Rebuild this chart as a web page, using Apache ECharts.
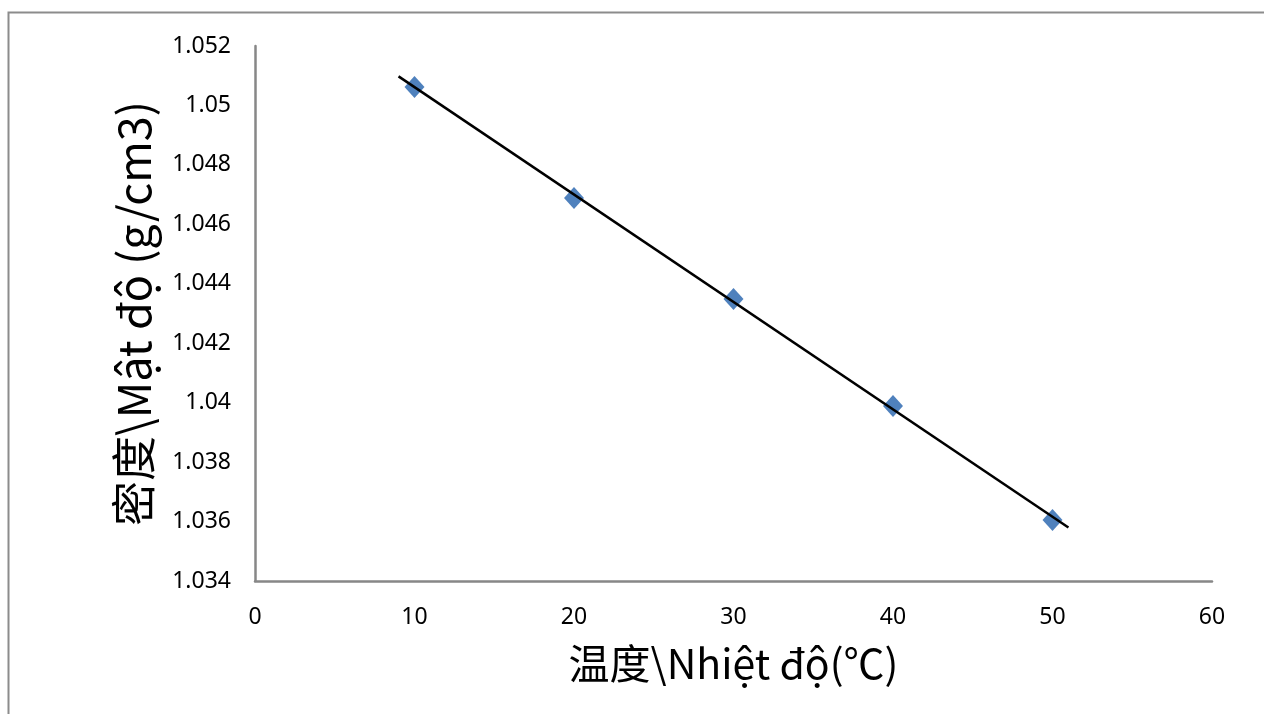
<!DOCTYPE html>
<html>
<head>
<meta charset="utf-8">
<script src="https://cdn.jsdelivr.net/npm/echarts@6/dist/echarts.min.js"></script>
<style>
html,body{margin:0;padding:0;background:#fff;}
#chart{width:1264px;height:714px;}
</style>
</head>
<body>
<div id="chart"></div>
<script>
// Data
const temperatures = [10, 20, 30, 40, 50];
const densities = [1.05062, 1.04689, 1.04349, 1.03989, 1.03605];
const trendRange = [9, 51];
const xTitle = '温度\\Nhiệt độ(℃)';
const yTitle = '密度\\Mật độ (g/cm3)';

// Linear least-squares trend line from the data
function linearFit(xs, ys) {
  const n = xs.length;
  const mx = xs.reduce((a, b) => a + b, 0) / n;
  const my = ys.reduce((a, b) => a + b, 0) / n;
  let sxy = 0, sxx = 0;
  for (let i = 0; i < n; i++) { sxy += (xs[i] - mx) * (ys[i] - my); sxx += (xs[i] - mx) ** 2; }
  const k = sxy / sxx;
  return x => my + k * (x - mx);
}
const fit = linearFit(temperatures, densities);
const trendData = trendRange.map(x => [x, fit(x)]);

const chart = echarts.init(document.getElementById('chart'));
const axisColor = '#878787';
const labelFont = '"Noto Sans", "Open Sans", sans-serif';
chart.setOption({
  backgroundColor: '#fff',
  animation: false,
  graphic: [{
    type: 'rect', left: 6, top: 10,
    shape: { width: 1400, height: 800 },
    style: { fill: 'none', stroke: '#8c8c8c', lineWidth: 2 },
    z: -1
  }],
  grid: { left: 255, right: 52, top: 46, bottom: 133 },
  xAxis: {
    type: 'value', min: 0, max: 60, interval: 10,
    axisLine: { show: true, lineStyle: { color: axisColor, width: 2.5 } },
    axisTick: { show: false },
    splitLine: { show: false },
    axisLabel: { color: '#000', fontSize: 23, fontFamily: labelFont, margin: 25 },
    name: xTitle, nameLocation: 'middle', nameGap: 62,
    nameTextStyle: { color: '#000', fontSize: 41, fontFamily: '"Noto Sans CJK SC", "Noto Sans", sans-serif' }
  },
  yAxis: {
    type: 'value', min: 1.034, max: 1.052, interval: 0.002,
    axisLine: { show: true, lineStyle: { color: axisColor, width: 2.5 } },
    axisTick: { show: false },
    splitLine: { show: false },
    axisLabel: { color: '#000', fontSize: 23, fontFamily: labelFont, margin: 24,
      formatter: v => String(+(+v).toFixed(3)) },
    name: yTitle, nameLocation: 'middle', nameGap: 99, nameRotate: 90,
    nameTextStyle: { color: '#000', fontSize: 45, fontFamily: '"Noto Sans CJK SC", "Noto Sans", sans-serif' }
  },
  series: [{
    type: 'scatter',
    data: temperatures.map((t, i) => [t, densities[i]]),
    symbol: 'diamond', symbolSize: [20, 22],
    itemStyle: { color: '#4F81BD', opacity: 1 },
    z: 2
  }, {
    type: 'line',
    data: trendData,
    symbol: 'none',
    lineStyle: { color: '#000', width: 2.5 },
    z: 3
  }]
});
</script>
</body>
</html>
